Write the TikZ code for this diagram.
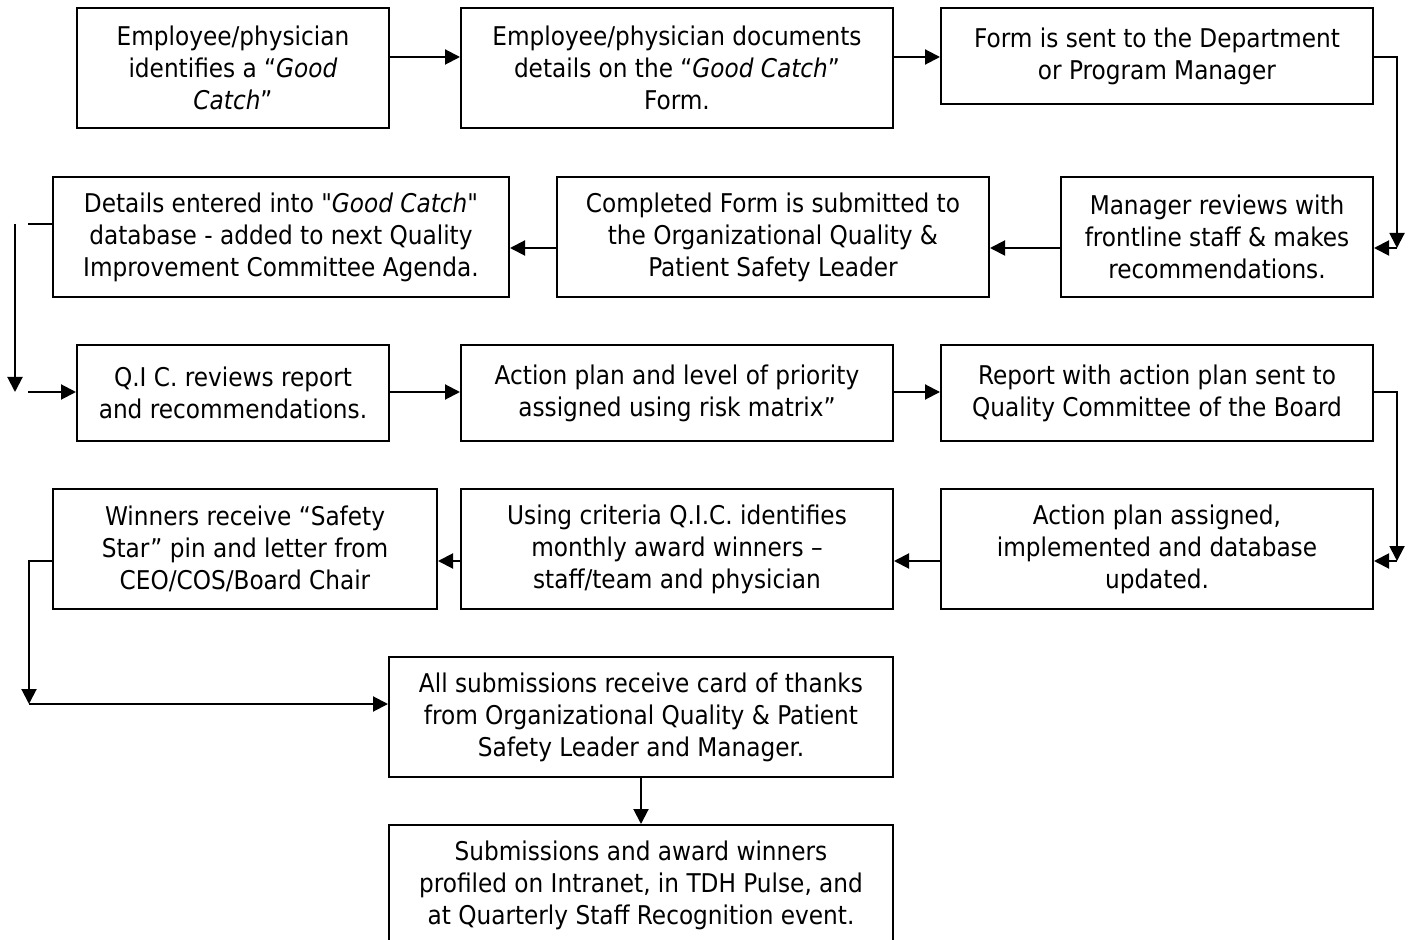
\documentclass[tikz,border=0pt]{standalone}
\usepackage{fontspec}
\setmainfont{DejaVu Sans Condensed}[Ligatures=TeXOff]
\usetikzlibrary{arrows.meta}
\begin{document}
\begin{tikzpicture}[x=0.5pt,y=-0.5pt,
  box/.style={draw, line width=1pt, align=center, inner sep=0pt,
    font=\fontsize{12.9pt}{16pt}\selectfont},
  arr/.style={line width=1pt, -{Triangle[length=7.5pt,width=7.5pt]}},
  ln/.style={line width=1pt}]
\useasboundingbox (0,0) rectangle (1412,940);
% boxes
\node[box, minimum width=156pt, minimum height=60pt] (A) at (233,68)
  {Employee/physician\\identifies a “\textit{Good}\\\textit{Catch}”};
\node[box, minimum width=216pt, minimum height=60pt] (B) at (677,68)
  {Employee/physician documents\\details on the “\textit{Good Catch}”\\Form.};
\node[box, minimum width=216pt, minimum height=48pt] (C) at (1157,56)
  {Form is sent to the Department\\or Program Manager};
\node[box, minimum width=228pt, minimum height=60pt] (D) at (281,237)
  {Details entered into \textit{"Good Catch}"\\database - added to next Quality\\Improvement Committee Agenda.};
\node[box, minimum width=216pt, minimum height=60pt] (E) at (773,237)
  {Completed Form is submitted to\\the Organizational Quality \&\\Patient Safety Leader};
\node[box, minimum width=156pt, minimum height=60pt] (F) at (1217,237)
  {Manager reviews with\\frontline staff \& makes\\recommendations.};
\node[box, minimum width=156pt, minimum height=48pt] (G) at (233,393)
  {Q.I C. reviews report\\and recommendations.};
\node[box, minimum width=216pt, minimum height=48pt] (H) at (677,393)
  {Action plan and level of priority\\assigned using risk matrix”};
\node[box, minimum width=216pt, minimum height=48pt] (I) at (1157,393)
  {Report with action plan sent to\\Quality Committee of the Board};
\node[box, minimum width=192pt, minimum height=60pt] (J) at (245,549)
  {Winners receive “Safety\\Star” pin and letter from\\CEO/COS/Board Chair};
\node[box, minimum width=216pt, minimum height=60pt] (K) at (677,549)
  {Using criteria Q.I.C. identifies\\monthly award winners –\\staff/team and physician};
\node[box, minimum width=216pt, minimum height=60pt] (L) at (1157,549)
  {Action plan assigned,\\implemented and database\\updated.};
\node[box, minimum width=252pt, minimum height=60pt] (M) at (641,717)
  {All submissions receive card of thanks\\from Organizational Quality \& Patient\\Safety Leader and Manager.};
\node[box, minimum width=252pt, minimum height=60pt] (N) at (641,885)
  {Submissions and award winners\\profiled on Intranet, in TDH Pulse, and\\at Quarterly Staff Recognition event.};
% helper coordinates
\coordinate (r1) at (0,57);
\coordinate (r2) at (0,248);
\coordinate (r2a) at (0,224);
\coordinate (r3) at (0,392);
\coordinate (r4) at (0,561);
\coordinate (r5) at (0,704);
\coordinate (cR) at (1397,0);
\coordinate (cL1a) at (28,0);
\coordinate (cL1) at (15,0);
\coordinate (cL2) at (29,0);
% row 1
\draw[arr] (A.east |- r1) -- (B.west |- r1);
\draw[arr] (B.east |- r1) -- (C.west |- r1);
\draw[arr] (C.east |- r1) -- (cR |- r1) -- (cR |- r2);
\draw[arr] (cR |- r2) -- (F.east |- r2);
% row 2
\draw[arr] (F.west |- r2) -- (E.east |- r2);
\draw[arr] (E.west |- r2) -- (D.east |- r2);
\draw[ln] (D.west |- r2a) -- (cL1a |- r2a);
\draw[arr] (cL1 |- r2a) -- (cL1 |- r3);
\draw[arr] (cL1a |- r3) -- (G.west |- r3);
% row 3
\draw[arr] (G.east |- r3) -- (H.west |- r3);
\draw[arr] (H.east |- r3) -- (I.west |- r3);
\draw[arr] (I.east |- r3) -- (cR |- r3) -- (cR |- r4);
\draw[arr] (cR |- r4) -- (L.east |- r4);
% row 4
\draw[arr] (L.west |- r4) -- (K.east |- r4);
\draw[arr] (K.west |- r4) -- (J.east |- r4);
\draw[arr] (J.west |- r4) -- (cL2 |- r4) -- (cL2 |- r5);
\draw[arr] (cL2 |- r5) -- (M.west |- r5);
\draw[arr] (M.south) -- (N.north);
\end{tikzpicture}
\end{document}
